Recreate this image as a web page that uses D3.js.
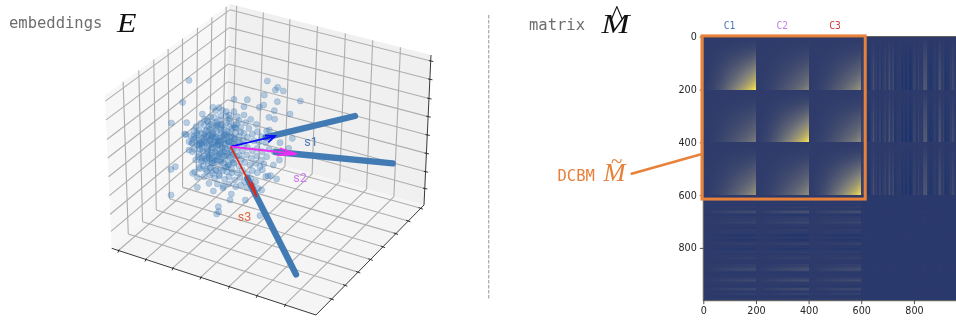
<!DOCTYPE html>
<html><head><meta charset="utf-8">
<style>
html,body{margin:0;padding:0;background:#fff;width:956px;height:320px;overflow:hidden}
#wrap{position:relative;width:956px;height:320px;filter:blur(0.35px)}
canvas,svg{position:absolute;left:0;top:0}
</style>
<script src="https://cdn.jsdelivr.net/npm/d3@7"></script>
</head><body><div id="wrap"><canvas id="heat" width="956" height="320"></canvas><svg id="chart" width="956" height="320"></svg></div>
<script>
// ---------- data: embeddings panel ----------
const cloudU = [-125,110,141,134,158,101,-144,10,50,140,209,99,86,131,178,115,132,-178,-132,116,185,174,148,-179,-166,-114,-108,138,-179,-100,-37,-42,-36,-2,44,88,93,-52,2,-23,112,105,120,128,146,-134,-117,-115,
-53,-35,-13,10,-45,-25,-85,40,40,-60,-30,-5,20,60,-70,-30,-5,25,45,-50,77,-80,10,-65,-45,-20,5,30,55,80,-95,-75,-55,-30,-10,15,40,65,92,108,-90,-110,-120,-105,-85,-95,-125,-115,-138,
-70,-60,-45,-35,-25,-12,0,12,25,38,50,70,85,105,-75,-55,-40,-20,-5,10,28,-100,-85,-70,-55,-40,-25,-10,5,20,35,50,65,80,95,115,130,-125,-95,-80,-62,-48,-32,-15,0,18,32,48,62,78,92,108,-105,-88,-70,-55,-40,-22,-8,10,25,42,58,75,88,100,
-95,-75,-60,-45,-30,-12,3,20,35,50,65,80,95,-80,-62,-48,-35,-18,-5,12,28,42,60,75,-65,-40,-22,-5,15,30,48,65,82,
-60,-48,-33,-18,-2,-70,-58,-35,-22,8,-80,-92,-42,-28,22,40,-50,-15,-65,-100,-30,-10,-3,18,-62,-40,-78,-52,5,-88,
-112,-102,-92,-80,-72,-64,-52,-44,-36,-28,-20,-12,-4,6,16,30,-108,-96,-84,-74,-66,-58,-46,-38,-26,-16,-8,2,14,26,-98,-86,-76,-68,-56,-48,-40,-30,-18,-6,8,-104,-90,-78,-70,-60,-50,-42,-32,-24,-14,-2,12,-92,-82,-72,-62,-54,-44,-34,-24,-10,4,-100,-84,-66,-50,-36,-20,-6,10,-74,-56,-38,-16,2,-62,-44,-28,-8,-86,-68,-30,-52,-12,-110,-94,-46,-26];
const cloudV = [-199,-197,-178,-170,-167,-155,-133,-142,-141,-135,-137,-125,-118,-108,-98,-88,-83,-71,-72,-50,-25,5,-12,68,60,80,76,97,145,122,180,202,195,160,160,207,130,133,142,124,88,90,87,55,40,-36,-12,15,
-118,-117,-105,-105,-108,-110,-98,-120,-95,-90,-92,-95,-90,-82,-75,-67,-77,-78,-72,-72,-67,-65,-65,-60,-55,-52,-55,-58,-55,-45,-50,-48,-42,-40,-45,-42,-40,-38,-30,-47,-40,-30,-33,-25,-25,-20,-15,-10,-38,
-30,-22,-28,-18,-30,-25,-32,-22,-30,-20,-28,-18,-15,-12,-12,-8,-12,-10,-15,-8,-12,-5,5,8,3,10,2,8,15,5,12,2,12,5,15,8,15,10,22,28,25,32,22,28,35,28,38,25,35,28,40,30,40,45,42,50,40,48,55,50,58,48,55,50,60,52,
62,68,62,72,65,75,68,78,70,82,72,78,70,90,85,95,88,98,90,100,92,105,95,105,110,112,118,112,120,115,122,118,125,
-35,-15,-5,-35,-2,15,18,30,15,22,-15,8,-45,-58,-15,-5,48,62,35,-35,42,20,-60,-68,-52,-65,-38,-28,40,-8,
-22,-42,-12,-30,-48,-20,-38,-62,-25,-50,-34,-72,-40,-28,-56,-44,8,-4,12,-10,20,2,16,-6,24,6,-18,14,-2,26,30,42,36,50,34,44,28,46,38,54,48,-60,-70,-82,-78,-66,-88,-74,-80,-64,-92,-84,-58,66,58,74,64,80,70,84,72,60,78,92,-10,-2,-6,-16,-20,-14,-24,-30,-34,-4,-8,-12,-18,-26,-16,26,34,30,20,40,-36,-48,-8,14,4,2];
const rayNames = ["s1","s2","s3"];
const rayStartU = [105,135,50], rayStartV = [-28,16,95];
const rayEndU = [373,486,196], rayEndV = [-92,50,383];
const arrowTipU = [133,198,78], arrowTipV = [-32,22,150];
const arrowBarbAU = [103,148,55], arrowBarbAV = [-33,5,110];
const arrowBarbBU = [113,138,63], arrowBarbBV = [-13,26,105];
const xTickFrac = [.033,.166,.298,.435,.574,.71,.848];
const yTickFrac = [.145,.27,.39,.505,.62,.74,.855,.97];
const zTickFrac = [.11,.222,.344,.467,.589,.71,.838,.96];
// ---------- data: matrix panel ----------
const blockTicks = [0,200,400,600,800];
const clusterNames = ["C1","C2","C3"];
const blockPeak = [[.80,.33,.42],[.30,.80,.38],[.42,.38,.80]];
const degreeProfile = [0,.02,.06,.12,.2,.3,.4,.52,.65,.8,1];
const stripeRamp = [0,.15,.3,.42,.54,.64,.72,.8,.86,.92,1];
const colStripes = [.2,.5,-.3,-.1,-.5,-.7,-.4,.1,.2,.7,-.2,.3,-.4,.2,.3,-.5,.2,.1,.4,-.2,.2,.7,-.1,.3,.4,-.5,-.3,.1,-.2,.3,-.4,-.6,.3,-.8,-.4,.1,-.5,-.9,-.3,.2,.3,.1,-.3,.4,-.1,.2,-.2,.9,.6,.8,-.1,-.3,-.6,-.2,-.3,.2,.1,-.3,.2,.7,.4,-.1,.3,-.4,-.6,-.2,-.5,.3,.1,.5,.3,-.2,.2,.6,-.3,.1,-.4,.1,.3,-.2];
const rowStripes = [.1,-.3,.2,.3,.1,-.2,.2,-.1,.1,.3,-.1,.2,.8,.6,-.2,-.4,.2,.1,.3,.1,.5,.3,-.1,.2,-.5,.1,.2,.1,.1,-.2,-.8,-.2,.2,-.7,-.5,.1,.2,.3,-.2,.1,-.6,-.2,.1,.2,-.3,.1,.1,.3,.2,-.1,.1,-.2,.3,.2,.4,.5,.8,.3,-.1,-.3,.1,-.2,.2,.3,.7,.4,-.1,.2,-.2,-.3,.5,.6,.1,-.2,.3,.2,-.4,-.2,.2,.1];
const blockMixRow = [1,1.1,.95], blockMixCol = [.85,1.1,.95];
const heatColors = ["#14306c","#2e3b6b","#7f7f7b","#fde74c"];

// ---------- layout ----------
const svg = d3.select("#chart");
const projU = d3.scaleLinear().domain([-100,100]).range([230.67-33.33,230.67+33.33]);
const projV = d3.scaleLinear().domain([-100,100]).range([146.67-33.33,146.67+33.33]);
const C = { // cube corners in page pixels
  L:[111.7,248.3], F:[316,315], B:[226,150], R:[424,205],
  Lt:[105,95], Bt:[230,4], Rt:[431,55]
};
C.Ft=[C.Lt[0]+C.Rt[0]-C.Bt[0], C.Lt[1]+C.Rt[1]-C.Bt[1]];
const lerp=(a,b,t)=>[a[0]+(b[0]-a[0])*t,a[1]+(b[1]-a[1])*t];
function cube(x,y,z){
  const bot=lerp(lerp(C.L,C.F,x),lerp(C.B,C.R,x),y);
  const top=lerp(lerp(C.Lt,C.Ft,x),lerp(C.Bt,C.Rt,x),y);
  return lerp(bot,top,z);
}
const poly=(pts,fill)=>svg.append("polygon").attr("points",pts.map(p=>p.join(",")).join(" ")).attr("fill",fill);
poly([cube(0,0,0),cube(0,1,0),cube(0,1,1),cube(0,0,1)],"#f7f7f7");
poly([cube(0,1,0),cube(1,1,0),cube(1,1,1),cube(0,1,1)],"#f0f0f0");
poly([cube(0,0,0),cube(1,0,0),cube(1,1,0),cube(0,1,0)],"#f5f5f5");
const seg=(g,a,b,st,w)=>g.append("line").attr("x1",a[0]).attr("y1",a[1]).attr("x2",b[0]).attr("y2",b[1]).attr("stroke",st).attr("stroke-width",w);
const grid=svg.append("g");
const gridColor="#aeaeae";
xTickFrac.forEach(x=>{seg(grid,cube(x,0,0),cube(x,1,0),gridColor,1.1);seg(grid,cube(x,1,0),cube(x,1,1),gridColor,1.1);});
yTickFrac.forEach(y=>{seg(grid,cube(0,y,0),cube(1,y,0),gridColor,1.1);seg(grid,cube(0,y,0),cube(0,y,1),gridColor,1.1);});
zTickFrac.forEach(z=>{seg(grid,cube(0,0,z),cube(0,1,z),gridColor,1.1);seg(grid,cube(0,1,z),cube(1,1,z),gridColor,1.1);});
// axis edges and ticks
const axes=svg.append("g");
seg(axes,cube(0,0,0),cube(1,0,0),"#222",.9);
seg(axes,cube(1,0,0),cube(1,1,0),"#222",.9);
seg(axes,cube(1,1,0),cube(1,1,1),"#222",.9);
xTickFrac.forEach(x=>{const p=cube(x,0,0);seg(axes,[p[0]+.8,p[1]-.9],[p[0]-.6,p[1]+2.2],"#222",.9);});
yTickFrac.forEach(y=>{const p=cube(1,y,0);seg(axes,[p[0]-2.2,p[1]-.7],[p[0]+2.2,p[1]+.9],"#222",.9);});
zTickFrac.forEach(z=>{const p=cube(1,1,z);seg(axes,[p[0]-1.8,p[1]-.4],[p[0]+2.6,p[1]+.5],"#222",.9);});

// cloud
const cloudG=svg.append("g");
cloudG.selectAll("circle").data(d3.range(cloudU.length)).join("circle")
  .attr("cx",i=>projU(cloudU[i])).attr("cy",i=>projV(cloudV[i])).attr("r",3.1)
  .attr("fill","#3f7ab5").attr("fill-opacity",.34)
  .attr("stroke","#3f7ab5").attr("stroke-opacity",.28).attr("stroke-width",.7);
// thick rays
svg.append("g").selectAll("line").data(rayNames).join("line")
  .attr("x1",(d,i)=>projU(rayStartU[i])).attr("y1",(d,i)=>projV(rayStartV[i]))
  .attr("x2",(d,i)=>projU(rayEndU[i])).attr("y2",(d,i)=>projV(rayEndV[i]))
  .attr("stroke","#427bb4").attr("stroke-width",6.4).attr("stroke-linecap","round");
// arrows
const arrowColors=["#0a0aff","#f02cf5","#d92a1c"];
const arrowG=svg.append("g").attr("fill","none").attr("stroke-width",1.8);
const arrowLine=d3.line().x(d=>projU(d[0])).y(d=>projV(d[1]));
rayNames.forEach((n,i)=>{
  const tip=[arrowTipU[i],arrowTipV[i]];
  arrowG.append("path").attr("stroke",arrowColors[i]).attr("d",arrowLine([[0,0],tip]));
  arrowG.append("path").attr("stroke",arrowColors[i]).attr("d",arrowLine([[arrowBarbAU[i],arrowBarbAV[i]],tip,[arrowBarbBU[i],arrowBarbBV[i]]]));
});
// ray labels
const rayLabelX=[311,300,244.5], rayLabelY=[145.5,182,220.5], rayLabelColor=["#4a77b8","#cf74ee","#df6540"];
svg.append("g").selectAll("text").data(rayNames).join("text")
  .attr("x",(d,i)=>rayLabelX[i]).attr("y",(d,i)=>rayLabelY[i]).attr("text-anchor","middle")
  .attr("font-family","Roboto, sans-serif").attr("font-size",12.5).attr("fill",(d,i)=>rayLabelColor[i]).text(d=>d);

// divider
svg.append("line").attr("x1",488.7).attr("x2",488.7).attr("y1",15).attr("y2",300)
  .attr("stroke","#a8a8a8").attr("stroke-width",1.2).attr("stroke-dasharray","3.6,1.4");

// titles
const mono="'DejaVu Sans Mono', monospace", serif="'Liberation Serif', serif";
const txt=(x,y,s,fam,size,col,extra)=>{const t=svg.append("text").attr("x",x).attr("y",y).attr("font-family",fam).attr("font-size",size).attr("fill",col).text(s);if(extra)t.attr("font-style",extra);return t;};
txt(9,28,"embeddings",mono,15.5,"#6e6e6e");
txt(117,31.7,"E",serif,27,"#111","italic").attr("textLength",19.5).attr("lengthAdjust","spacingAndGlyphs");
txt(529,30,"matrix",mono,15.5,"#6e6e6e");
txt(601.5,32.7,"M",serif,27,"#111","italic").attr("textLength",28).attr("lengthAdjust","spacingAndGlyphs");
txt(610.5,24,"^",serif,27,"#111");
txt(557.5,181,"DCBM",mono,15.5,"#e8803a");
txt(603.5,181,"M",serif,25,"#e8803a","italic").attr("textLength",22).attr("lengthAdjust","spacingAndGlyphs");
txt(611,168,"~",serif,21,"#e8803a");

// ---------- matrix ----------
const xM=d3.scaleLinear().domain([0,1000]).range([703.3,966.6]);
const yM=d3.scaleLinear().domain([0,1000]).range([36.7,300.7]);
const color=d3.scaleLinear().domain([0,.2,.5,1]).range(heatColors).interpolate(d3.interpolateRgb).clamp(true);
const fracs=degreeProfile.map((_,i)=>i/(degreeProfile.length-1));
const degF=d3.scaleLinear().domain(fracs).range(degreeProfile);
const rampF=d3.scaleLinear().domain(fracs).range(stripeRamp);
const colS=d3.scaleLinear().domain(colStripes.map((_,i)=>602.5+i*5)).range(colStripes).clamp(true);
const rowS=d3.scaleLinear().domain(rowStripes.map((_,i)=>602.5+i*5)).range(rowStripes).clamp(true);
function cell(i,j){ // i row, j col
  if(i<600&&j<600){
    const a=Math.floor(i/200),b=Math.floor(j/200);
    return .2+blockPeak[a][b]*degF((i%200)/200)*degF((j%200)/200);
  }
  if(i<600){const a=Math.floor(i/200);return .19+.19*blockMixRow[a]*rampF((i%200)/200)*colS(j);}
  if(j<600){const b=Math.floor(j/200);return .19+.14*blockMixCol[b]*rampF((j%200)/200)*rowS(i);}
  return .17+.04*rowS(i)*colS(j);
}
const ctx=document.getElementById("heat").getContext("2d");
const x0=Math.ceil(xM(0)),x1=956,y0=Math.ceil(yM(0)),y1=Math.floor(yM(1000));
const img=ctx.createImageData(x1-x0,y1-y0);
for(let py=y0;py<y1;py++)for(let px=x0;px<x1;px++){
  const c=d3.rgb(color(cell(yM.invert(py+.5),xM.invert(px+.5))));
  const k=((py-y0)*(x1-x0)+(px-x0))*4;
  img.data[k]=c.r;img.data[k+1]=c.g;img.data[k+2]=c.b;img.data[k+3]=255;
}
ctx.putImageData(img,x0,y0);
// spines
const sp=svg.append("g").attr("stroke","#2a2a2a").attr("stroke-width",.9).attr("fill","none");
sp.append("path").attr("d",`M956,${yM(0)}H${xM(0)}V${yM(1000)}H956`);
// axes
const axB=svg.append("g").attr("transform",`translate(0,${yM(1000)})`).call(d3.axisBottom(xM).tickValues(blockTicks).tickSize(3.5).tickPadding(3).tickFormat(d3.format("d")));
const axL=svg.append("g").attr("transform",`translate(${xM(0)},0)`).call(d3.axisLeft(yM).tickValues(blockTicks).tickSize(3.5).tickPadding(3).tickFormat(d3.format("d")));
[axB,axL].forEach(a=>{a.select(".domain").remove();a.selectAll("text").attr("font-family","'DejaVu Sans', sans-serif").attr("font-size",9.6).attr("fill","#262626");a.selectAll("line").attr("stroke","#262626").attr("stroke-width",.8);});
// cluster labels
const clusterColors=["#4a78bd","#c07fe6","#d1403f"];
svg.append("g").selectAll("text").data(clusterNames).join("text")
  .attr("x",(d,i)=>xM(100+200*i)).attr("y",28.5).attr("text-anchor","middle")
  .attr("font-family",mono).attr("font-size",9.6).attr("fill",(d,i)=>clusterColors[i]).text(d=>d);
// orange highlight and leader
svg.append("rect").attr("x",xM(-5)).attr("y",yM(-3)).attr("width",xM(615)-xM(-5)).attr("height",yM(615)-yM(-3))
  .attr("fill","none").attr("stroke","#e8823a").attr("stroke-width",3);
svg.append("line").attr("x1",630.7).attr("y1",174).attr("x2",702).attr("y2",154).attr("stroke","#e8823a").attr("stroke-width",2.5);
</script></body></html>
